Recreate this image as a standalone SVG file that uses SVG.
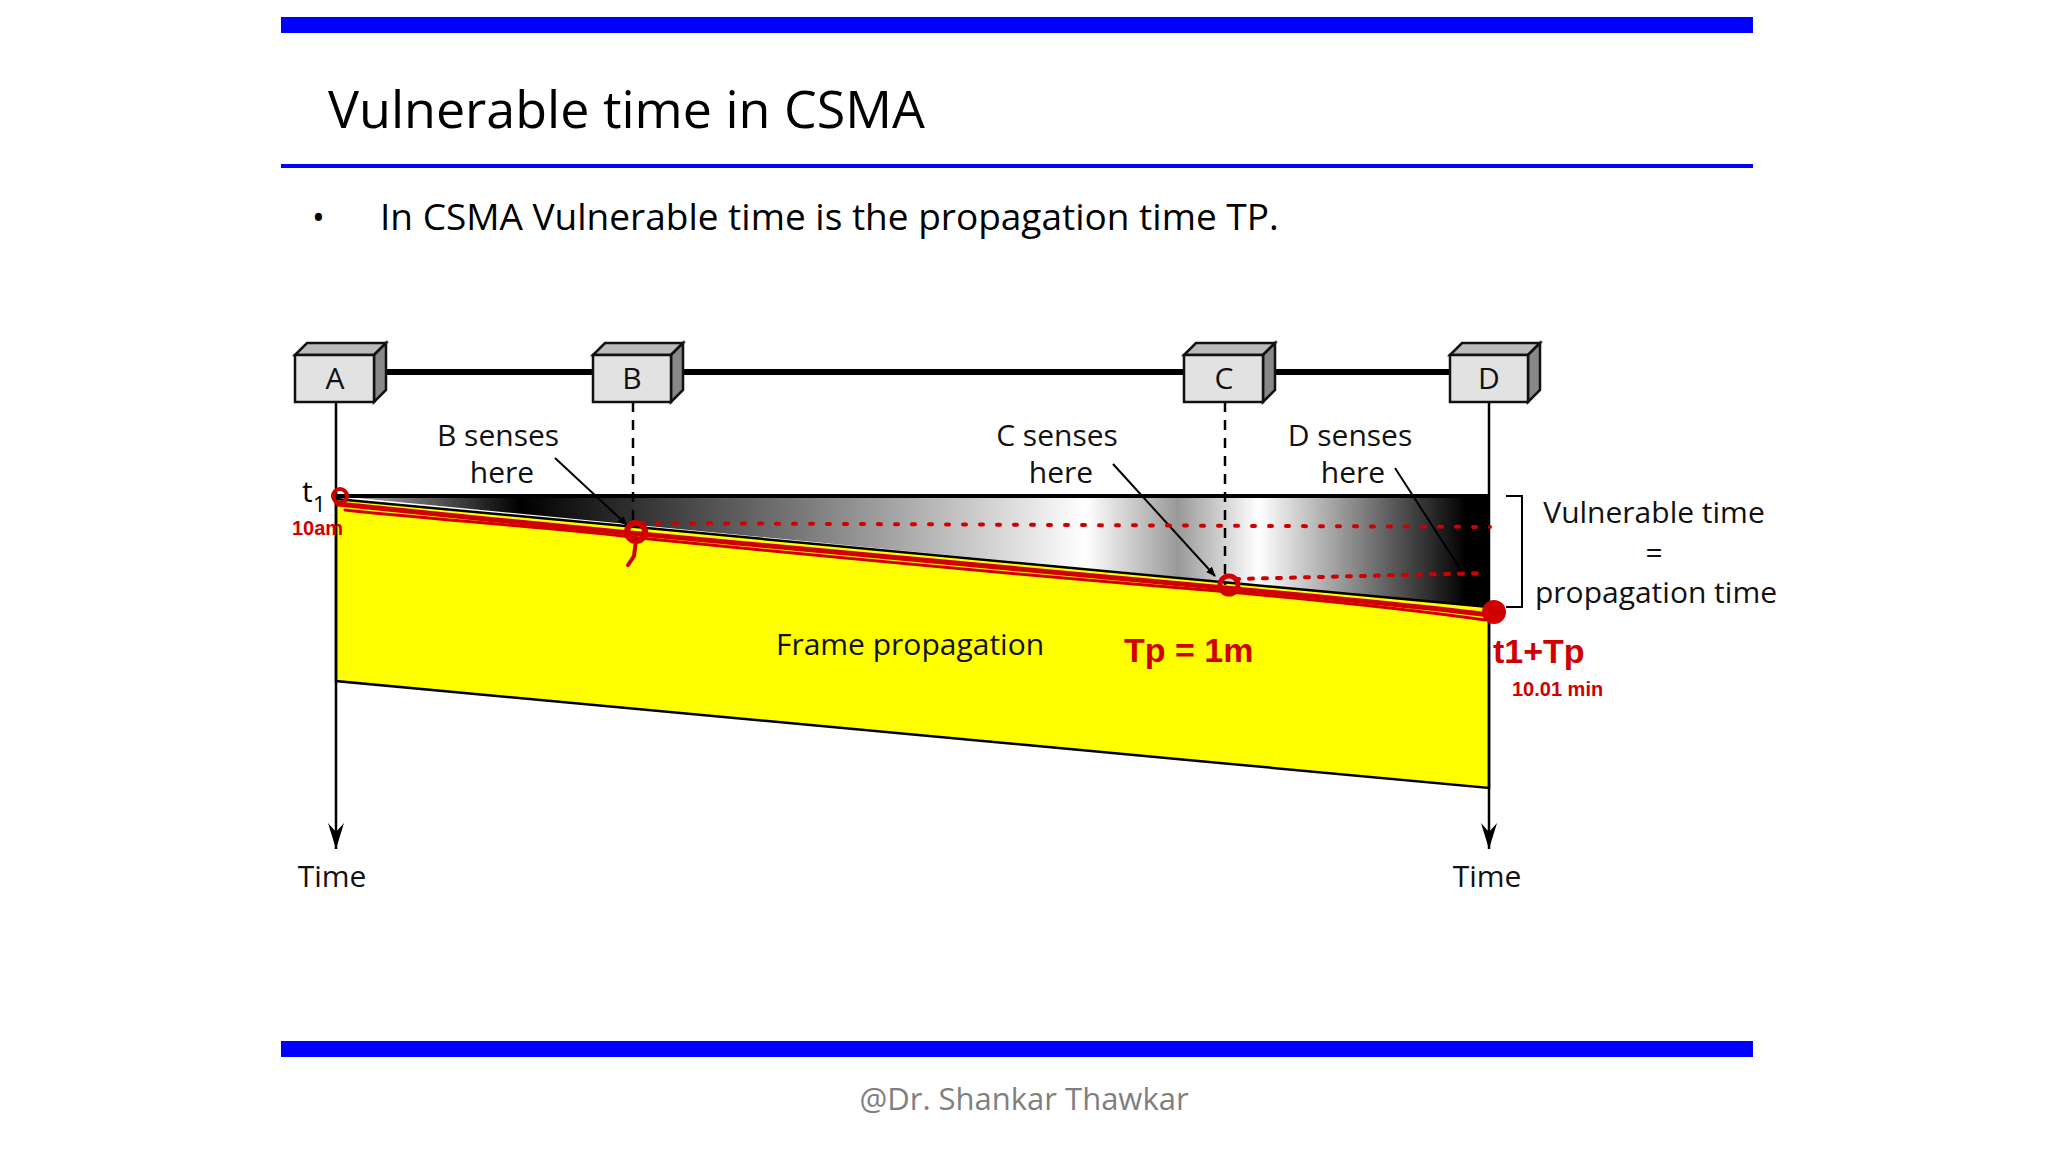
<svg xmlns="http://www.w3.org/2000/svg" width="2048" height="1152" viewBox="0 0 2048 1152">
<style>
.t{font-family:"Open Sans","Liberation Sans",sans-serif;fill:#000}
.lbl{font-family:"Open Sans","Liberation Sans",sans-serif;font-size:30px;fill:#111;text-anchor:middle}
.box{fill:#e2e2e2;stroke:#111;stroke-width:2.5}
.side{fill:#888;stroke:#111;stroke-width:2.5}
.topf{fill:#bbb;stroke:#111;stroke-width:2.5}
.red{fill:none;stroke:#d00000;stroke-linecap:round;stroke-linejoin:round}
.rt{font-family:"Liberation Sans",sans-serif;fill:#d00000;font-weight:bold}
</style>
<defs>
<linearGradient id="g" x1="336" y1="0" x2="1489" y2="0" gradientUnits="userSpaceOnUse">
<stop offset="0" stop-color="#bbb"/><stop offset="0.16" stop-color="#000"/><stop offset="0.4" stop-color="#777"/><stop offset="0.65" stop-color="#fff"/><stop offset="0.73" stop-color="#999"/><stop offset="0.8" stop-color="#fff"/><stop offset="0.98" stop-color="#000"/>
</linearGradient>
<marker id="ah" markerWidth="10" markerHeight="10" refX="9" refY="5" orient="auto" markerUnits="userSpaceOnUse" viewBox="0 0 10 10"><path d="M0,1 L10,5 L0,9 z" fill="#000"/></marker>
<marker id="tah" markerWidth="16" markerHeight="26" refX="8" refY="26" orient="0" markerUnits="userSpaceOnUse" viewBox="0 0 16 26"><path d="M0,0 L8,26 L16,0 L8,9 z" fill="#000"/></marker>
</defs>
<rect width="2048" height="1152" fill="#fff"/>
<rect x="281" y="17" width="1472" height="16" fill="#0000ff"/>
<text class="t" x="328" y="128" font-size="52">Vulnerable time in CSMA</text>
<rect x="281" y="164" width="1472" height="4" fill="#0000ff"/>
<text class="t" x="312" y="230" font-size="34">•</text>
<text class="t" x="380" y="230" font-size="37">In CSMA Vulnerable time is the propagation time TP.</text>
<rect x="281" y="1041" width="1472" height="16" fill="#0000ff"/>
<text class="t" x="1024" y="1110" font-size="31" text-anchor="middle" style="fill:#7f7f7f">@Dr. Shankar Thawkar</text>

<g id="regions">
<polygon points="336,496 1489,496 1489,607" fill="url(#g)"/>
<polygon points="336,499 1489,607 1489,788 336,681" fill="#ffff00" stroke="#000" stroke-width="2.5"/>
<line x1="336" y1="496" x2="1489" y2="496" stroke="#000" stroke-width="4"/>
</g>

<g id="connectors" stroke="#000" fill="none">
<line x1="374" y1="372" x2="1450" y2="372" stroke-width="6"/>
<line x1="336" y1="402" x2="336" y2="849" stroke-width="2.5" marker-end="url(#tah)"/>
<line x1="1489" y1="402" x2="1489" y2="849" stroke-width="2.5" marker-end="url(#tah)"/>
<line x1="633" y1="402" x2="633" y2="528" stroke-width="2.5" stroke-dasharray="10,8"/>
<line x1="1225" y1="402" x2="1225" y2="585" stroke-width="2.5" stroke-dasharray="10,8"/>
<line x1="555" y1="458" x2="627" y2="525" stroke-width="2" marker-end="url(#ah)"/>
<line x1="1113" y1="464" x2="1215" y2="576" stroke-width="2" marker-end="url(#ah)"/>
<line x1="1395" y1="468" x2="1479" y2="598" stroke-width="2" marker-end="url(#ah)"/>
<polyline points="1506,496 1522,496 1522,607 1506,607" stroke-width="2"/>
</g>

<g id="A"><polygon class="topf" points="295,355 307,343 386,343 374,355"/><polygon class="side" points="374,355 386,343 386,390 374,402"/><rect class="box" x="295" y="355" width="79" height="47"/><text class="lbl" x="335" y="389">A</text></g>
<g id="B"><polygon class="topf" points="593,355 605,343 683,343 671,355"/><polygon class="side" points="671,355 683,343 683,390 671,402"/><rect class="box" x="593" y="355" width="78" height="47"/><text class="lbl" x="632" y="389">B</text></g>
<g id="C"><polygon class="topf" points="1184,355 1196,343 1275,343 1263,355"/><polygon class="side" points="1263,355 1275,343 1275,390 1263,402"/><rect class="box" x="1184" y="355" width="79" height="47"/><text class="lbl" x="1224" y="389">C</text></g>
<g id="D"><polygon class="topf" points="1450,355 1462,343 1540,343 1528,355"/><polygon class="side" points="1528,355 1540,343 1540,390 1528,402"/><rect class="box" x="1450" y="355" width="78" height="47"/><text class="lbl" x="1489" y="389">D</text></g>

<g id="labels">
<text class="lbl" x="498" y="446">B senses</text><text class="lbl" x="502" y="483">here</text>
<text class="lbl" x="1057" y="446">C senses</text><text class="lbl" x="1061" y="483">here</text>
<text class="lbl" x="1350" y="446">D senses</text><text class="lbl" x="1353" y="483">here</text>
<text class="lbl" x="1654" y="523">Vulnerable time</text>
<text class="lbl" x="1654" y="563">=</text>
<text class="lbl" x="1656" y="603">propagation time</text>
<text class="lbl" x="910" y="655">Frame propagation</text>
<text class="t" x="302" y="502" font-size="30">t</text><text class="t" x="313" y="512" font-size="22">1</text>
<text class="lbl" x="332" y="887">Time</text>
<text class="lbl" x="1487" y="887">Time</text>
</g>

<g id="annotations">
<path class="red" stroke-width="5" d="M338,504 C450,516 520,522 630,533 C800,550 1000,568 1225,588 C1330,598 1420,606 1489,615"/>
<path class="red" stroke-width="3" d="M345,510 C460,522 560,528 640,538 C820,556 1020,575 1230,592 C1340,602 1430,612 1485,620"/>
<path class="red" stroke-width="4" stroke-dasharray="3,14" d="M640,523 L1490,527"/>
<path class="red" stroke-width="4" stroke-dasharray="4,10" d="M1235,579 L1485,573"/>
<circle cx="340" cy="496" r="7" class="red" stroke-width="4"/>
<circle cx="636" cy="532" r="9" class="red" stroke-width="6"/>
<path class="red" stroke-width="4" d="M636,540 L634,556 L628,565"/>
<circle cx="1229" cy="585" r="9" class="red" stroke-width="5"/>
<circle cx="1494" cy="612" r="12" fill="#d00000"/>
<text class="rt" x="292" y="535" font-size="20">10am</text>
<text class="rt" x="1124" y="662" font-size="34">Tp = 1m</text>
<text class="rt" x="1493" y="663" font-size="34">t1+Tp</text>
<text class="rt" x="1512" y="696" font-size="20">10.01 min</text>
</g>
</svg>
